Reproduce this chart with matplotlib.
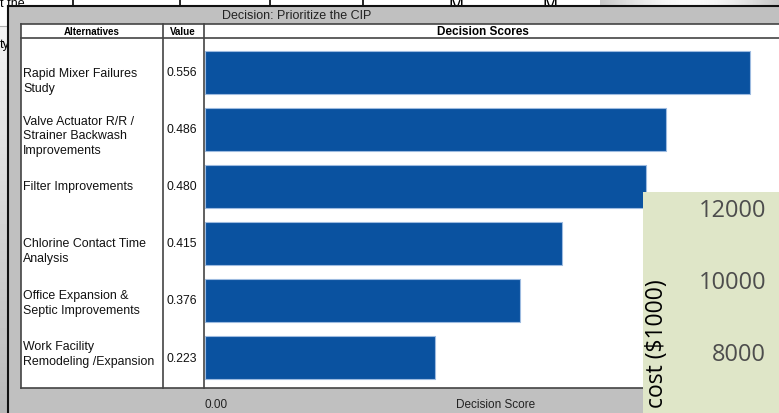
import numpy as np
import matplotlib.pyplot as plt
from matplotlib.patches import Rectangle
from matplotlib.transforms import blended_transform_factory

# data
alternatives = ["Rapid Mixer Failures\nStudy",
                "Valve Actuator R/R /\nStrainer Backwash\nImprovements",
                "Filter Improvements",
                "Chlorine Contact Time\nAnalysis",
                "Office Expansion &\nSeptic Improvements",
                "Work Facility\nRemodeling /Expansion"]
values = [0.556, 0.486, 0.480, 0.415, 0.376, 0.223]
# bar lengths as drawn (decision score axis)
bar_scores = [0.556, 0.470, 0.450, 0.364, 0.321, 0.235]
cost_ticks = [12000, 10000, 8000, 6000]

W, H = 779, 414
fig = plt.figure(figsize=(W / 100, H / 100), dpi=100)
fig.patch.set_facecolor("white")
plt.rcParams['font.family'] = ['Liberation Sans', 'DejaVu Sans']

# background / window chrome in pixel coords
bg = fig.add_axes([0, 0, 1, 1], zorder=0)
bg.set_xlim(0, W)
bg.set_ylim(H, 0)
bg.axis('off')

# stuff behind the window
grad = np.linspace(0, 1, 200)[None, :]
bg.imshow(0.78 + 0.2 * np.sin(grad * np.pi), cmap='gray', vmin=0, vmax=1,
          extent=[600, W, 7, 0], aspect='auto', zorder=0)
bg.imshow(np.linspace(0.95, 0.72, 100)[:, None], cmap='gray', vmin=0, vmax=1,
          extent=[0, 8, H, 28], aspect='auto', zorder=0)
bg.plot([0, 8], [27, 27], color='#b0b0b0', lw=0.8, zorder=0.5)
for tx in [73, 180, 270, 363]:
    bg.plot([tx, tx], [1, 7], color='black', lw=1.2, zorder=0.5)
bg.text(0, 4, "t the", fontsize=9, va='center', ha='left', zorder=0.5)
bg.text(0, 45, "ty", fontsize=9, va='center', ha='left', zorder=0.5)
bg.text(456, 5, "M", fontsize=13, va='center', ha='center', zorder=0.5)
bg.text(550, 5, "M", fontsize=13, va='center', ha='center', zorder=0.5)

# the window
bg.add_patch(Rectangle((8, 7), W - 8, H - 7, facecolor='#c0c0c0', edgecolor='none',
                       zorder=1))
bg.plot([8, W], [7, 7], color='#111111', lw=1.5, zorder=1.2)
bg.plot([8, 8], [7, H], color='#111111', lw=1.5, zorder=1.2)
bg.text(297, 16, "Decision: Prioritize the CIP", fontsize=9, ha='center', va='center',
        color='#222222')

# table
bg.add_patch(Rectangle((21, 25), W - 21, 364, facecolor='white', edgecolor='none',
                       zorder=1.1))
line = dict(color='#444444', lw=1.2, zorder=2)
bg.plot([21, W], [24.5, 24.5], **line)
bg.plot([21, W], [38.5, 38.5], **line)
bg.plot([21, W], [389, 389], **line)
bg.plot([21, 21], [24.5, 389], **line)
bg.plot([163, 163], [24.5, 389], **line)
bg.plot([204.5, 204.5], [24.5, 389], **line)

bg.text(92, 32, "Alternatives", fontsize=7, fontweight='bold', ha='center', va='center')
bg.text(183, 32, "Value", fontsize=7, fontweight='bold', ha='center', va='center')
bg.text(483, 32, "Decision Scores", fontsize=8.5, fontweight='bold', ha='center', va='center')

# bar chart axes (pixel 205..779, 39..389)
ax = fig.add_axes([205 / W, (H - 389) / H, (W - 205) / W, 350 / H], zorder=1)
ax.set_facecolor('none')
rows = np.arange(len(values))
ax.barh(rows, bar_scores, height=0.77, color='#0a52a0', edgecolor='#9dbbe0', linewidth=0.8)
ax.set_xlim(0, (W - 205) / 980)
ax.set_ylim(5.535, -0.605)
ax.axis('off')

# row labels and values aligned to the bar rows
label_shift = [8, 6, 0, 7, 2, -4]
to_px = ax.transData + bg.transData.inverted()
for i, (name, val) in enumerate(zip(alternatives, values)):
    yc = to_px.transform((0, i))[1]
    bg.text(23, yc + label_shift[i], name, fontsize=8.9, ha='left', va='center',
            linespacing=1.3, color='#111111')
    bg.text(167, yc, f"{val:.3f}", fontsize=8.7, ha='left', va='center', color='#111111')

bg.text(205, 405, "0.00", fontsize=8.5, ha='left', va='center', color='#222222')
bg.text(496, 405, "Decision Score", fontsize=8.5, ha='center', va='center', color='#222222')

# green chart piece on top
gx = fig.add_axes([643 / W, 0, (W - 643) / W, (H - 193) / H], zorder=3)
gx.set_facecolor('#dfe6c8')
gx.set_xlim(0, 1)
gx.set_ylim(12000 - 203 / 0.036, 12000 + 18 / 0.036)
for s in gx.spines.values():
    s.set_visible(False)
gx.set_xticks([])
gx.set_yticks([])
trans = blended_transform_factory(gx.transAxes, gx.transData)
for c in cost_ticks:
    gx.text(123 / 136, c, str(c), transform=trans, fontsize=17, family='Open Sans',
            color='#4d4d4d', ha='right', va='center', clip_on=True)
gx.text(14 / 136, 0.32, "cost ($1000)", transform=gx.transAxes, rotation=90,
        fontsize=16.5, family='Open Sans', color='black', ha='center', va='center')

fig.savefig("out.png", dpi=100)
